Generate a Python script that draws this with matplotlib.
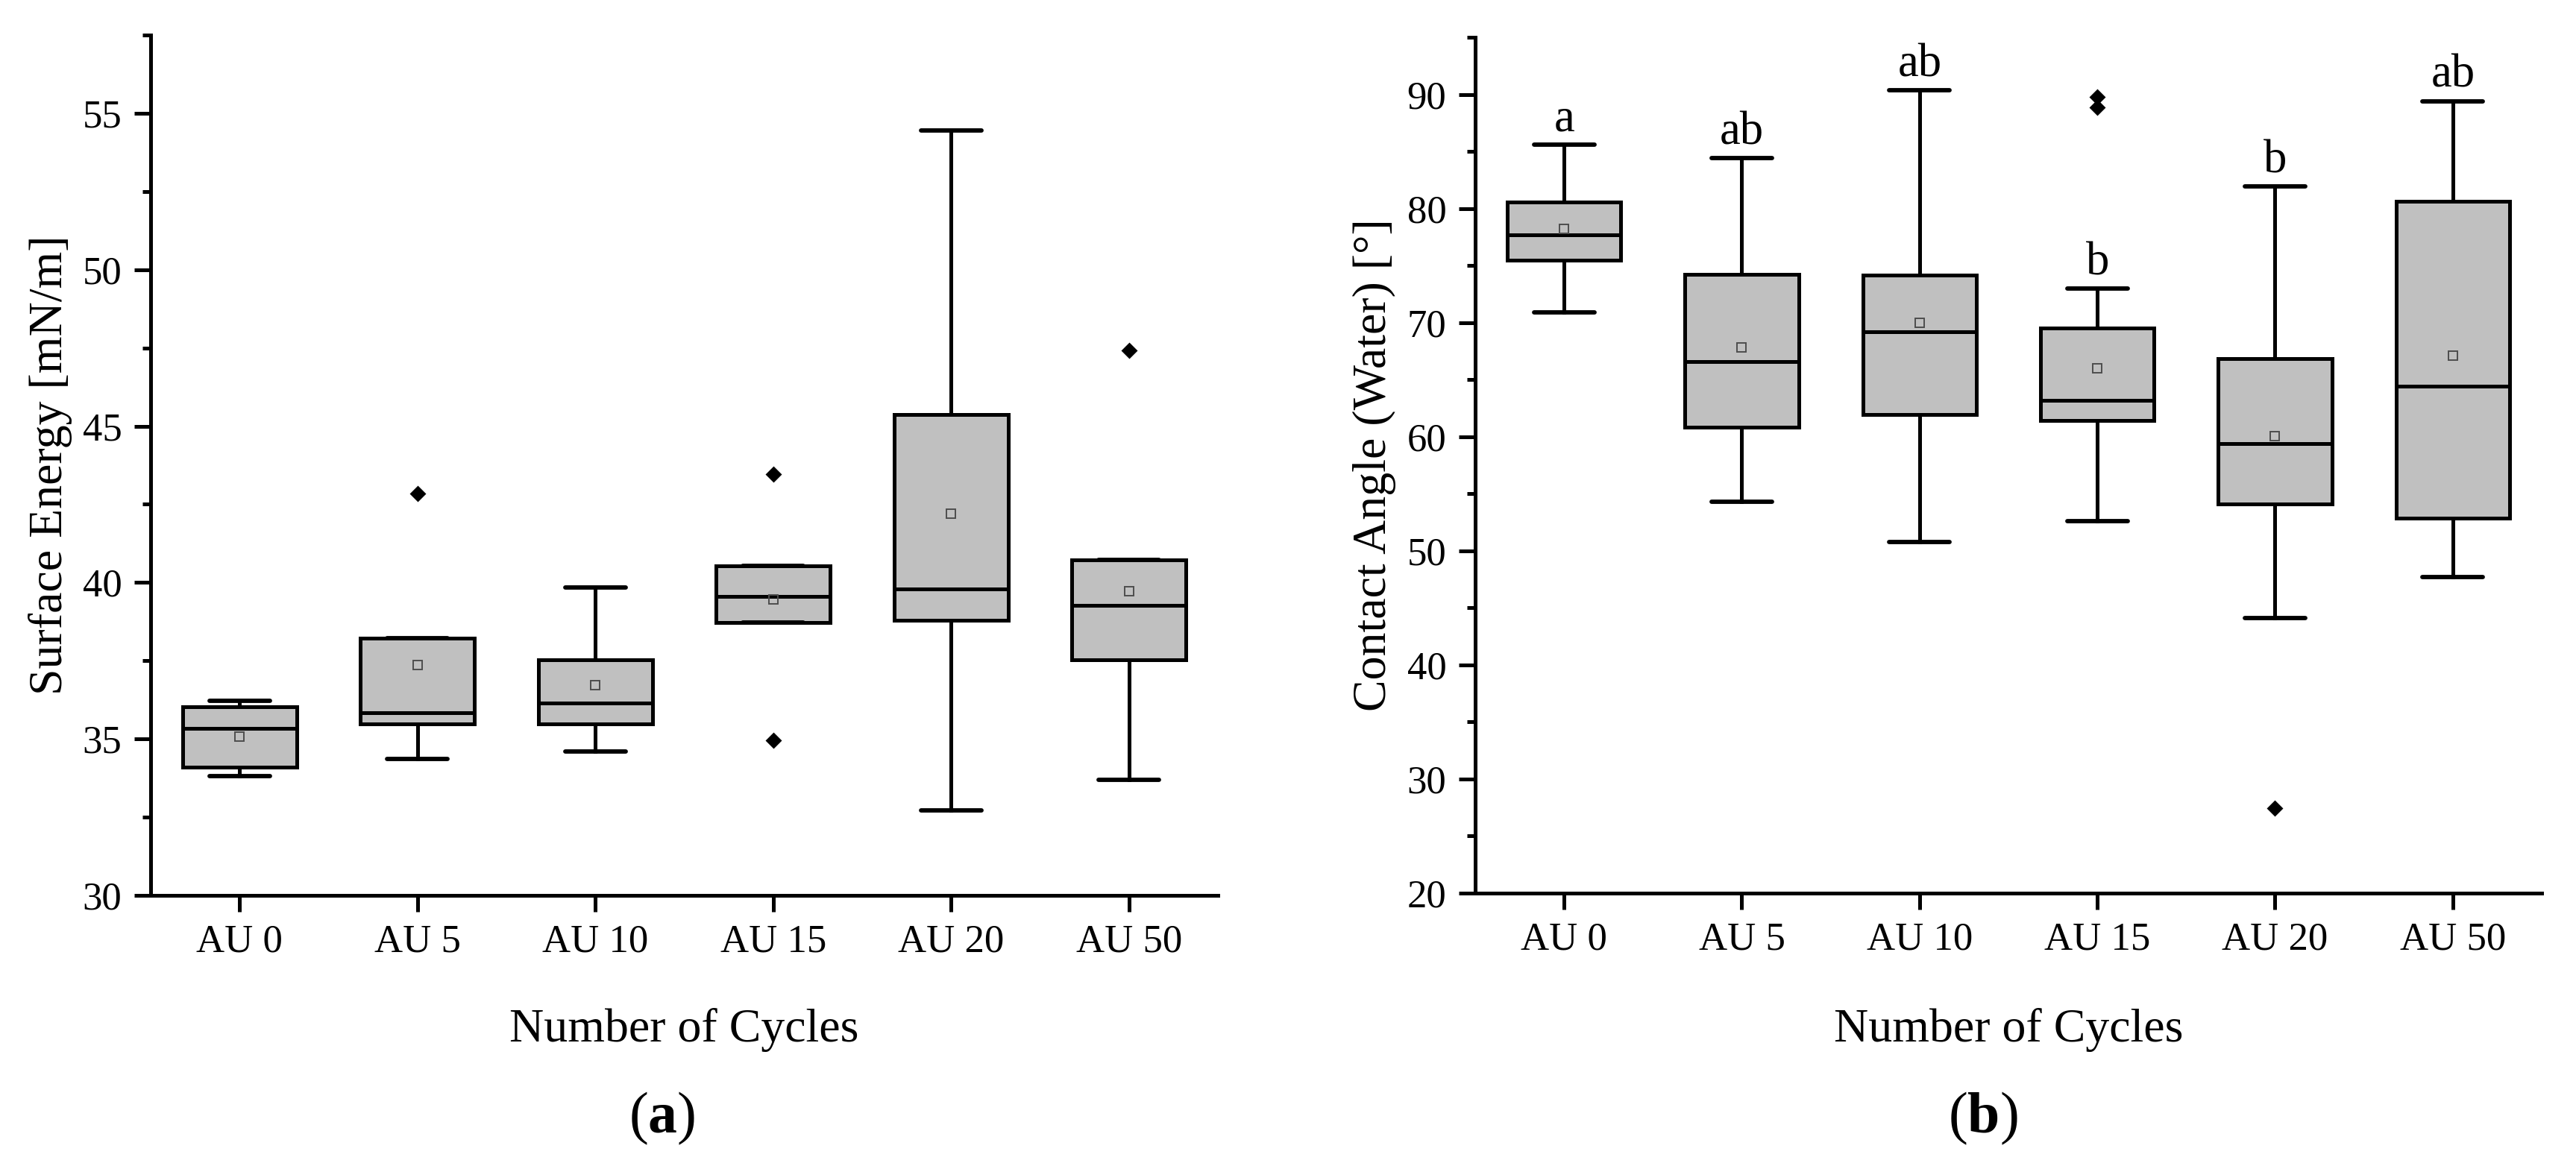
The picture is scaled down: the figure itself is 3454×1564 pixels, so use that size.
import matplotlib
matplotlib.use('Agg')
import matplotlib.pyplot as plt
from matplotlib.ticker import MultipleLocator

plt.rcParams['font.family'] = ['Liberation Serif', 'DejaVu Serif']
plt.rcParams['mathtext.fontset'] = 'custom'
plt.rcParams['mathtext.rm'] = 'Liberation Serif'
plt.rcParams['mathtext.bf'] = 'Liberation Serif:bold'

groups = ['AU 0', 'AU 5', 'AU 10', 'AU 15', 'AU 20', 'AU 50']

# (a) surface energy [mN/m]
se_whislo = [33.81, 34.35, 34.59, 38.71, 32.71, 33.69]
se_q1 = [34.09, 35.49, 35.49, 38.71, 38.80, 37.52]
se_med = [35.33, 35.85, 36.14, 39.56, 39.80, 39.28]
se_q3 = [36.02, 38.23, 37.54, 40.54, 45.37, 40.73]
se_whishi = [36.21, 38.23, 39.85, 40.54, 54.45, 40.73]
se_mean = [35.07, 37.37, 36.73, 39.47, 42.20, 39.73]
se_fliers = [[], [42.85], [], [43.46, 34.95], [], [47.41]]

# (b) water contact angle [deg]
ca_whislo = [70.90, 54.28, 50.76, 52.59, 44.12, 47.70]
ca_q1 = [75.46, 60.80, 61.97, 61.39, 54.09, 52.85]
ca_med = [77.68, 66.60, 69.21, 63.21, 59.37, 64.45]
ca_q3 = [80.55, 74.23, 74.16, 69.53, 66.86, 80.61]
ca_whishi = [85.57, 84.39, 90.33, 72.99, 81.92, 89.41]
ca_mean = [78.20, 67.84, 69.99, 66.01, 60.02, 67.12]
ca_fliers = [[], [], [], [89.80, 88.89], [27.43], []]
ca_letters = ['a', 'ab', 'ab', 'b', 'b', 'ab']

W, H = 3455, 1564
LW = 1.8


def _stats(lo, q1, med, q3, hi, mean, fliers):
    return [
        dict(whislo=a, q1=b, med=c, q3=d, whishi=e, mean=f, fliers=g, label=lab)
        for a, b, c, d, e, f, g, lab in zip(lo, q1, med, q3, hi, mean, fliers, groups)
    ]


def _panel(ax, stats, ylim, major, minor):
    pos = list(range(1, len(groups) + 1))
    ax.bxp(
        stats,
        positions=pos,
        widths=0.64,
        capwidths=0.34,
        showmeans=True,
        patch_artist=True,
        boxprops=dict(facecolor='#c0c0c0', edgecolor='black', linewidth=LW),
        whiskerprops=dict(color='black', linewidth=LW),
        capprops=dict(color='black', linewidth=LW + 0.3, solid_capstyle='round'),
        medianprops=dict(color='black', linewidth=LW),
        meanprops=dict(marker='s', markerfacecolor='none', markeredgecolor='#4d4d4d',
                       markersize=4.4, markeredgewidth=0.7),
        flierprops=dict(marker='D', markerfacecolor='black', markeredgecolor='black',
                        markersize=4.8),
    )
    ax.set_xlim(0.5, len(groups) + 0.5)
    ax.set_ylim(*ylim)
    ax.set_xticks(pos)
    ax.set_xticklabels(groups)
    ax.yaxis.set_major_locator(MultipleLocator(major))
    ax.yaxis.set_minor_locator(MultipleLocator(minor))
    ax.spines['top'].set_visible(False)
    ax.spines['right'].set_visible(False)
    for s in ('left', 'bottom'):
        ax.spines[s].set_linewidth(LW)
    ax.tick_params(which='major', direction='out', length=7.9, width=LW, labelsize=19, pad=6)
    ax.tick_params(which='minor', direction='out', length=4, width=LW)
    ax.tick_params(axis='x', which='minor', bottom=False)


fig = plt.figure(figsize=(W / 200, H / 200), dpi=200)

ax_a = fig.add_axes([202 / W, 1 - 1201 / H, 1431 / W, 1154 / H])
_panel(ax_a, _stats(se_whislo, se_q1, se_med, se_q3, se_whishi, se_mean, se_fliers),
       (30, 57.5), 5, 2.5)

ax_b = fig.add_axes([1978 / W, 1 - 1198 / H, 1430 / W, 1148 / H])
_panel(ax_b, _stats(ca_whislo, ca_q1, ca_med, ca_q3, ca_whishi, ca_mean, ca_fliers),
       (20, 95), 10, 5)
for i, (hi, lab) in enumerate(zip(ca_whishi, ca_letters)):
    ax_b.annotate(lab, (i + 1, hi), xytext=(0, 6.8), textcoords='offset points',
                  ha='center', va='baseline', fontsize=22.5)

# axis titles and panel tags
fig.text(917 / W, 1 - 1397 / H, 'Number of Cycles', ha='center', va='baseline', fontsize=23)
fig.text(2693 / W, 1 - 1397 / H, 'Number of Cycles', ha='center', va='baseline', fontsize=23)
fig.text(68 / W, 1 - 624 / H, 'Surface Energy [mN/m]', rotation=90,
         ha='center', va='center', fontsize=23)
fig.text(1843 / W, 1 - 624 / H, 'Contact Angle (Water) [°]', rotation=90,
         ha='center', va='center', fontsize=23)
fig.text(888 / W, 1 - 1519 / H, r'($\mathbf{a}$)', ha='center', va='baseline', fontsize=28)
fig.text(2659 / W, 1 - 1519 / H, r'($\mathbf{b}$)', ha='center', va='baseline', fontsize=28)

fig.savefig('out.png', dpi=200)
